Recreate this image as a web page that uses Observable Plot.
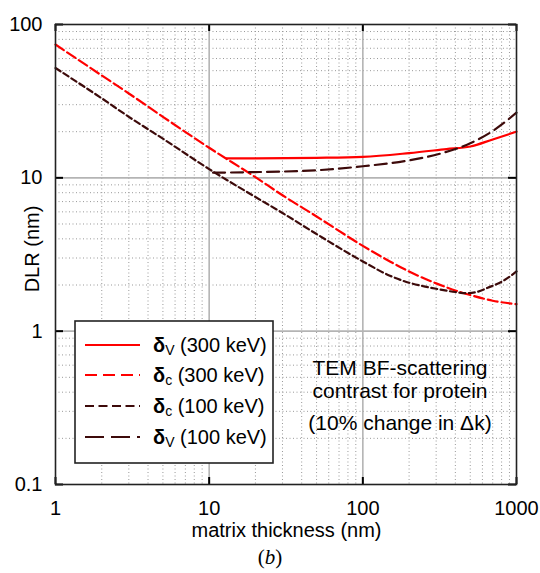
<!DOCTYPE html>
<html>
<head>
<meta charset="utf-8">
<script src="https://cdn.jsdelivr.net/npm/d3@7"></script>
<script src="https://cdn.jsdelivr.net/npm/@observablehq/plot@0.6"></script>
<style>
  body { margin: 0; background: #fff; font-family: "Liberation Sans", Arial, sans-serif; }
  #chart svg { display: block; }
  #caption { width: 540px; height: 28px; line-height: 24px; text-align: center; font-family: "Liberation Serif", "Times New Roman", serif; font-size: 21px; }
</style>
</head>
<body>
<div id="chart"></div>
<div id="caption">(<i>b</i>)</div>
<script>
// ---- data (matrix thickness nm -> DLR nm) ----
const dv300_x = [13, 20, 50, 100, 200, 350, 500, 700, 1000];
const dv300_y = [13.4, 13.4, 13.5, 13.7, 14.5, 15.4, 16.0, 17.8, 20.0];

const dc300_x = [1, 2, 3, 5, 10, 20, 30, 50, 100, 150, 200, 300, 500, 700, 1000];
const dc300_y = [74, 46.5, 35.5, 25, 15.7, 10.1, 7.7, 5.6, 3.6, 2.85, 2.45, 2.05, 1.72, 1.58, 1.5];

const dc100_x = [1, 2, 3, 5, 10, 20, 30, 50, 100, 150, 200, 250, 300, 400, 470, 550, 650, 800, 1000];
const dc100_y = [52, 33, 25, 18, 11.4, 7.5, 5.9, 4.3, 2.85, 2.3, 2.07, 1.96, 1.89, 1.8, 1.77, 1.8, 1.92, 2.1, 2.45];

const dv100_x = [10.6, 20, 50, 100, 200, 320, 500, 700, 1000];
const dv100_y = [10.8, 10.9, 11.2, 11.9, 13.0, 14.4, 16.8, 20.2, 26.6];

const xTicks = [1, 10, 100, 1000];
const yTicks = [0.1, 1, 10, 100];
const xMinor = [2,3,4,5,6,7,8,9,20,30,40,50,60,70,80,90,200,300,400,500,600,700,800,900];
const yMinor = [0.2,0.3,0.4,0.5,0.6,0.7,0.8,0.9,2,3,4,5,6,7,8,9,20,30,40,50,60,70,80,90];
const xMajorGrid = [10, 100];
const yMajorGrid = [1, 10];

const seriesSub = ["V", "c", "c", "V"];
const seriesEnergy = ["(300 keV)", "(300 keV)", "(100 keV)", "(100 keV)"];
const seriesColor = ["#ff0000", "#ff0000", "#3d0a0a", "#3d0a0a"];
const seriesDash = [null, "10,4", "6,3.5", "12,6"];
const legendDash = [null, "12,6", "9,4.5", "19,7"];

const annotation = ["TEM BF-scattering", "contrast for protein", "(10% change in Δk)"];

const toRows = (xs, ys) => xs.map((x, i) => ({x, y: ys[i]}));
const S = [
  toRows(dv300_x, dv300_y),
  toRows(dc300_x, dc300_y),
  toRows(dc100_x, dc100_y),
  toRows(dv100_x, dv100_y)
];

const W = 540, H = 545;
const mL = 55, mR = 24, mT = 24, mB = 61;
const innerH = H - mT - mB, innerW = W - mL - mR;

const lineMarks = S.map((rows, i) => Plot.line(rows, {
  x: "x", y: "y", stroke: seriesColor[i], strokeWidth: 2.2,
  strokeDasharray: seriesDash[i] || undefined, curve: "monotone-x"
}));

const chart = Plot.plot({
  width: W, height: H,
  marginLeft: mL, marginRight: mR, marginTop: mT, marginBottom: mB,
  style: {fontFamily: "'Liberation Sans', Arial, sans-serif", fontSize: "20px", color: "#000", background: "#fff"},
  x: {type: "log", domain: [1, 1000]},
  y: {type: "log", domain: [0.1, 100]},
  marks: [
    Plot.ruleX(xMinor, {x: d => d, stroke: "#999", strokeWidth: 1, strokeDasharray: "1,2.5"}),
    Plot.ruleY(yMinor, {y: d => d, stroke: "#999", strokeWidth: 1, strokeDasharray: "1,2.5"}),
    Plot.ruleX(xMajorGrid, {x: d => d, stroke: "#b4b4b4", strokeWidth: 1.6}),
    Plot.ruleY(yMajorGrid, {y: d => d, stroke: "#b4b4b4", strokeWidth: 1.6}),
    // inward tick marks on all four sides
    Plot.ruleX(xTicks, {x: d => d, insetTop: innerH - 7, stroke: "#000", strokeWidth: 2}),
    Plot.ruleX(xTicks, {x: d => d, insetBottom: innerH - 7, stroke: "#000", strokeWidth: 2}),
    Plot.ruleY(yTicks, {y: d => d, insetRight: innerW - 8, stroke: "#000", strokeWidth: 2}),
    Plot.ruleY(yTicks, {y: d => d, insetLeft: innerW - 8, stroke: "#000", strokeWidth: 2}),
    ...lineMarks,
    Plot.frame({stroke: "#222", strokeWidth: 1.6}),
    Plot.axisX({ticks: xTicks, tickFormat: d => String(d), tickSize: 0, tickPadding: 16, label: null}),
    Plot.axisY({ticks: yTicks, tickFormat: d => String(d), tickSize: 0, tickPadding: 13, label: null})
  ]
});

document.getElementById("chart").appendChild(chart);

const svg = d3.select(chart);
// axis titles
svg.append("text").attr("x", (mL + W - mR) / 2 + 1).attr("y", 530)
  .attr("text-anchor", "middle").attr("dominant-baseline", "central")
  .attr("font-size", 20).attr("fill", "#000").text("matrix thickness (nm)");
svg.append("text").attr("transform", `translate(32,${(mT + H - mB) / 2 - 5}) rotate(-90)`)
  .attr("text-anchor", "middle").attr("dominant-baseline", "central")
  .attr("font-size", 20).attr("fill", "#000").text("DLR (nm)");

// annotation
annotation.forEach((t, i) => {
  svg.append("text").attr("x", 400).attr("y", [367, 390, 422][i])
    .attr("text-anchor", "middle").attr("dominant-baseline", "central")
    .attr("font-size", 21).attr("fill", "#000").text(t);
});

// legend
const lg = svg.append("g");
lg.append("rect").attr("x", 75).attr("y", 321).attr("width", 198).attr("height", 142)
  .attr("fill", "#fff").attr("stroke", "#222").attr("stroke-width", 1.6);
const rowY = [345, 375, 406, 437];
seriesSub.forEach((sub, i) => {
  const y = rowY[i];
  lg.append("line").attr("x1", 85).attr("x2", 140).attr("y1", y).attr("y2", y)
    .attr("stroke", seriesColor[i]).attr("stroke-width", 2.2)
    .attr("stroke-dasharray", legendDash[i]);
  const t = lg.append("text").attr("x", 153).attr("y", y).attr("dominant-baseline", "central")
    .attr("text-anchor", "start").attr("font-size", 20).attr("fill", "#000");
  t.append("tspan").attr("font-weight", "bold").text("δ");
  t.append("tspan").attr("font-size", 14).attr("dy", 5).text(sub);
  t.append("tspan").attr("dy", -5).text(" " + seriesEnergy[i]);
});
</script>
</body>
</html>
